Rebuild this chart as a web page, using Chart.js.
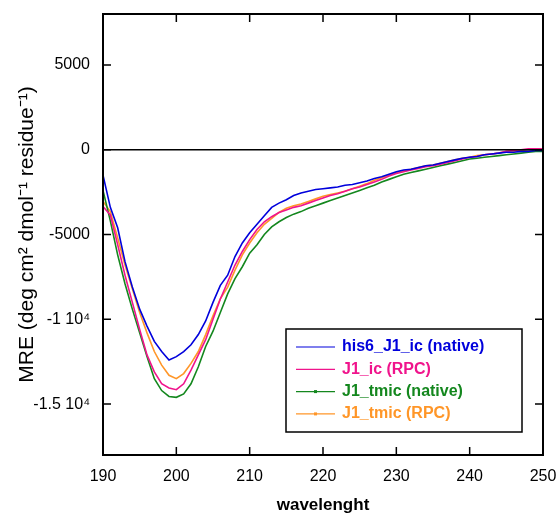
<!DOCTYPE html>
<html>
<head>
<meta charset="utf-8">
<script src="https://cdn.jsdelivr.net/npm/chart.js@4.4.1/dist/chart.umd.min.js"></script>
<style>
  body { margin: 0; background: #fff; }
  #wrap { width: 556px; height: 516px; }
</style>
</head>
<body>
<div id="wrap"><canvas id="cdChart" width="556" height="516"></canvas></div>
<script>
// wavelength (nm), 1 nm steps
const wavelengths = [];
for (let w = 190; w <= 250; w++) wavelengths.push(w);

const seriesNames = ['his6_J1_ic (native)', 'J1_ic (RPC)', 'J1_tmic (native)', 'J1_tmic (RPC)'];
const seriesColors = ['#0000dc', '#f0148c', '#14871e', '#ff9628'];

const his6J1icNative = [
    -1500, -3400, -4600, -6600, -8100, -9400, -10400, -11300, -11900, -12400,
    -12200, -11900, -11500, -10900, -10100, -9000, -8000, -7400, -6300, -5500,
    -4900, -4400, -3900, -3400, -3150, -2950, -2700, -2550, -2450, -2350,
    -2300, -2250, -2200, -2100, -2050, -1950, -1850, -1700, -1600, -1450,
    -1300, -1200, -1150, -1050, -950, -900, -800, -700, -600, -500,
    -450, -400, -300, -250, -200, -150, -150, -100, -100, -50, -50
];
const j1icRPC = [
    -3350, -3850, -5600, -7400, -9000, -10600, -12100, -13100, -13800, -14050,
    -14150, -13800, -13000, -12100, -11200, -10000, -8800, -7800, -6800, -6000,
    -5300, -4700, -4250, -3950, -3700, -3550, -3400, -3300, -3150, -3000,
    -2850, -2700, -2600, -2450, -2300, -2200, -2050, -1900, -1750, -1550,
    -1400, -1300, -1200, -1100, -1000, -950, -850, -750, -650, -550,
    -450, -400, -300, -250, -200, -100, -50, 0, 50, 50, 50
];
const j1tmicNative = [
    -2400, -4200, -6200, -7900, -9400, -10800, -12200, -13500, -14200, -14550,
    -14600, -14400, -13800, -12800, -11600, -10700, -9600, -8500, -7600, -6900,
    -6100, -5600, -5000, -4550, -4250, -4000, -3800, -3650, -3450, -3300,
    -3150, -3000, -2850, -2700, -2550, -2400, -2250, -2100, -1900, -1750,
    -1600, -1450, -1350, -1250, -1150, -1050, -950, -850, -750, -650,
    -550, -500, -450, -400, -350, -300, -250, -200, -150, -100, -100
];
const j1tmicRPC = [
    -3050, -3650, -5200, -6800, -8200, -9600, -10800, -11900, -12700, -13300,
    -13500, -13200, -12600, -11900, -10900, -9800, -8800, -8100, -7100, -6200,
    -5500, -4900, -4400, -4050, -3700, -3450, -3300, -3200, -3050, -2900,
    -2750, -2650, -2550, -2450, -2300, -2150, -2000, -1800, -1650, -1500,
    -1350, -1250, -1150, -1050, -950, -900, -800, -700, -600, -500,
    -450, -350, -300, -250, -200, -100, -100, -50, 0, 0, 0
];

const xTicks = [190, 200, 210, 220, 230, 240, 250];
const yTicks = [-15000, -10000, -5000, 0, 5000];
const yTickLabels = ['-1.5 10\u2074', '-1 10\u2074', '-5000', '0', '5000'];

const allSeries = [his6J1icNative, j1icRPC, j1tmicNative, j1tmicRPC];

function toPoints(values) {
    return values.map((v, i) => ({ x: wavelengths[i], y: v }));
}

// frame, inward ticks on all four sides, zero line and boxed legend
const framePlugin = {
    id: 'frame',
    afterDatasetsDraw(chart) {
        const ctx = chart.ctx;
        const a = chart.chartArea;
        const xs = chart.scales.x;
        const ys = chart.scales.y;
        const tl = 8;
        ctx.save();
        ctx.strokeStyle = '#000';
        ctx.lineWidth = 1.5;

        const y0 = ys.getPixelForValue(0);
        ctx.beginPath();
        ctx.moveTo(a.left, y0);
        ctx.lineTo(a.right, y0);
        ctx.stroke();

        ctx.lineWidth = 2;
        ctx.strokeRect(a.left, a.top, a.right - a.left, a.bottom - a.top);

        ctx.lineWidth = 1.5;
        ctx.beginPath();
        xTicks.forEach(v => {
            const px = xs.getPixelForValue(v);
            ctx.moveTo(px, a.bottom); ctx.lineTo(px, a.bottom - tl);
            ctx.moveTo(px, a.top); ctx.lineTo(px, a.top + tl);
        });
        yTicks.forEach(v => {
            const py = ys.getPixelForValue(v);
            ctx.moveTo(a.left, py); ctx.lineTo(a.left + tl, py);
            ctx.moveTo(a.right, py); ctx.lineTo(a.right - tl, py);
        });
        ctx.stroke();

        // legend box
        const bx = 286, by = 329, bw = 236, bh = 103;
        ctx.fillStyle = '#fff';
        ctx.fillRect(bx, by, bw, bh);
        ctx.strokeStyle = '#000';
        ctx.lineWidth = 1.5;
        ctx.strokeRect(bx, by, bw, bh);
        ctx.font = 'bold 16px "Liberation Sans", Arial, sans-serif';
        ctx.textBaseline = 'middle';
        ctx.textAlign = 'left';
        chart.data.datasets.forEach((ds, i) => {
            const ry = by + 18 + i * 22.3;
            ctx.strokeStyle = ds.borderColor;
            ctx.lineWidth = 1.2;
            ctx.beginPath();
            ctx.moveTo(bx + 10, ry);
            ctx.lineTo(bx + 49, ry);
            ctx.stroke();
            if (i >= 2) {
                ctx.fillStyle = ds.borderColor;
                ctx.fillRect(bx + 28, ry - 1.5, 3, 3);
            }
            ctx.fillStyle = ds.borderColor;
            ctx.fillText(ds.label, bx + 56, ry);
        });
        ctx.restore();
    }
};

const ctx = document.getElementById('cdChart').getContext('2d');
const cdChart = new Chart(ctx, {
    type: 'line',
    data: {
        datasets: allSeries.map((s, i) => ({
            label: seriesNames[i],
            data: toPoints(s),
            borderColor: seriesColors[i],
            backgroundColor: seriesColors[i],
            borderWidth: 1.6,
            pointRadius: 0,
            tension: 0,
            fill: false
        }))
    },
    options: {
        responsive: false,
        animation: false,
        layout: { padding: { left: 0, right: 13, top: 14, bottom: 0 } },
        plugins: {
            legend: { display: false },
            tooltip: { enabled: false }
        },
        scales: {
            x: {
                type: 'linear',
                min: 190,
                max: 250,
                grid: { display: false, drawTicks: false },
                border: { display: false },
                afterBuildTicks: scale => { scale.ticks = xTicks.map(v => ({ value: v })); },
                afterFit: scale => {
                    scale.height = 61;
                    scale.paddingLeft = 0;
                    scale.paddingRight = 0;
                },
                ticks: {
                    color: '#000',
                    padding: 12,
                    maxRotation: 0,
                    font: { family: '"Liberation Sans", Arial, sans-serif', size: 16 }
                },
                title: {
                    display: true,
                    text: 'wavelenght',
                    color: '#000',
                    padding: { top: 0, bottom: 0 },
                    font: { family: '"Liberation Sans", Arial, sans-serif', size: 17, weight: 'bold' }
                }
            },
            y: {
                type: 'linear',
                min: -18000,
                max: 8000,
                grid: { display: false, drawTicks: false },
                border: { display: false },
                afterBuildTicks: scale => { scale.ticks = yTicks.map(v => ({ value: v })); },
                afterFit: scale => {
                    scale.width = 103;
                    scale.paddingTop = 0;
                    scale.paddingBottom = 0;
                },
                ticks: {
                    color: '#000',
                    padding: 13,
                    font: { family: '"Liberation Sans", Arial, sans-serif', size: 16 },
                    callback: value => {
                        const k = yTicks.indexOf(value);
                        return k >= 0 ? yTickLabels[k] : '';
                    }
                },
                title: {
                    display: true,
                    text: 'MRE (deg cm\u00b2 dmol\u207b\u00b9 residue\u207b\u00b9)',
                    color: '#000',
                    padding: { top: 15, bottom: 0 },
                    font: { family: '"Liberation Sans", Arial, sans-serif', size: 21 }
                }
            }
        }
    },
    plugins: [framePlugin]
});
</script>
</body>
</html>
